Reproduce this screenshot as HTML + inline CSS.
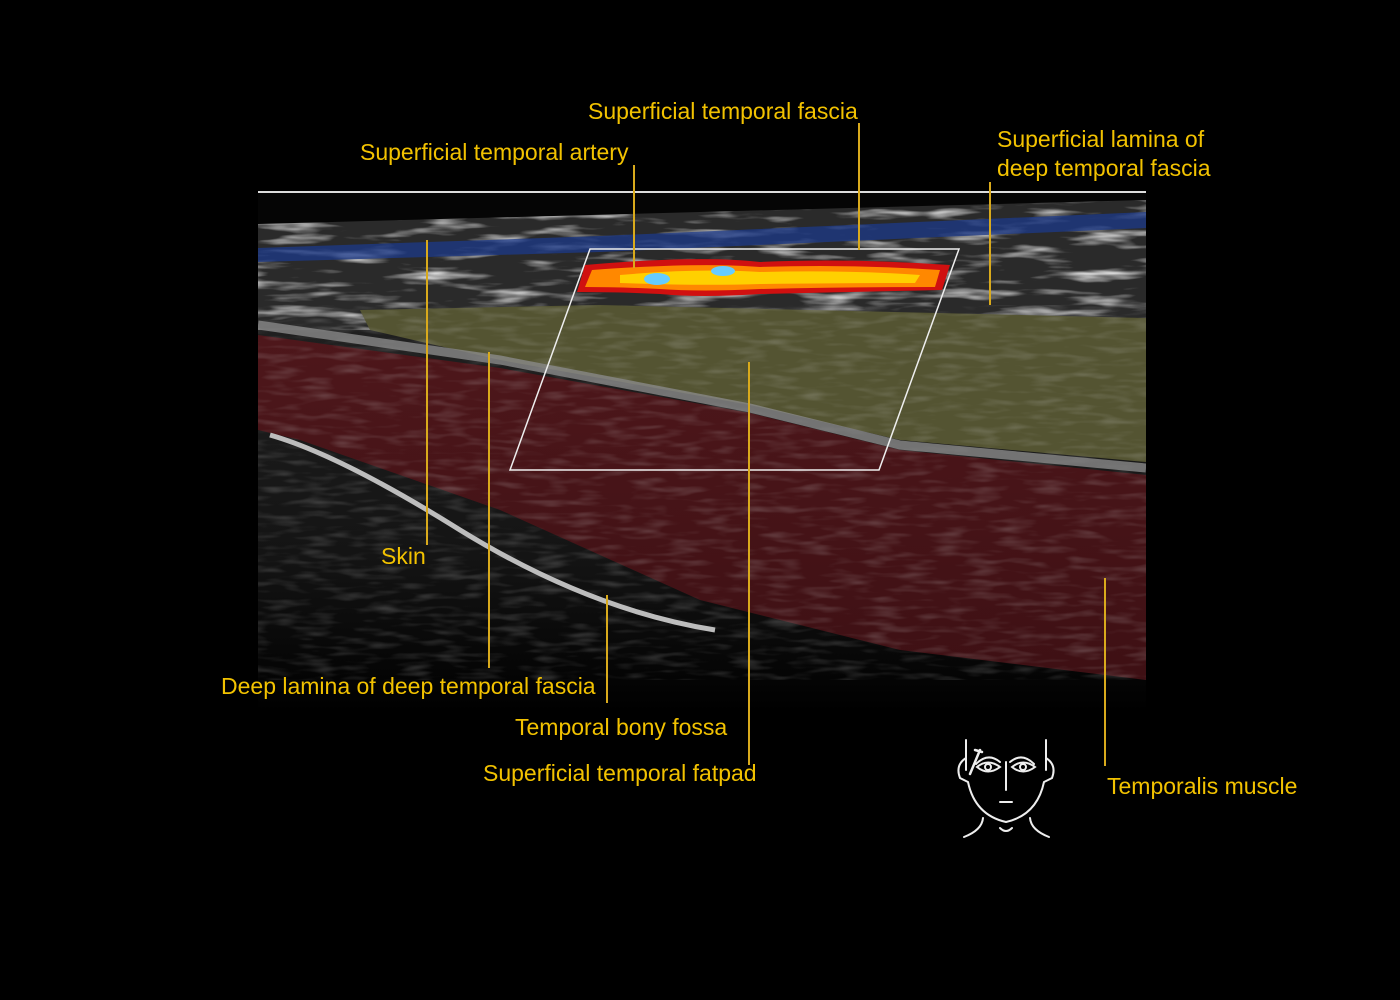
<!DOCTYPE html>
<html><head><meta charset="utf-8"><style>
html,body{margin:0;padding:0;background:#000;width:1400px;height:1000px;overflow:hidden}
svg{display:block}
text{font-family:"Liberation Sans",sans-serif;font-size:23px;fill:#f2c200}
</style></head><body>
<svg width="1400" height="1000" viewBox="0 0 1400 1000">
<defs>
<filter id="n" x="0" y="0" width="100%" height="100%">
<feTurbulence type="fractalNoise" baseFrequency="0.015 0.1" numOctaves="3" seed="4"/>
<feColorMatrix type="matrix" values="0 0 0 0 0.75 0 0 0 0 0.75 0 0 0 0 0.75 0 0 0 2.6 -1.3"/>
</filter>
<filter id="n2" x="0" y="0" width="100%" height="100%">
<feTurbulence type="fractalNoise" baseFrequency="0.03 0.15" numOctaves="2" seed="9"/>
<feColorMatrix type="matrix" values="0 0 0 0 0.6 0 0 0 0 0.6 0 0 0 0 0.6 0 0 0 1.5 -0.7"/>
</filter>
<linearGradient id="fade" x1="0" y1="0" x2="0" y2="1">
<stop offset="0" stop-color="#262626"/><stop offset="0.7" stop-color="#141414"/><stop offset="1" stop-color="#000"/>
</linearGradient>
<linearGradient id="redg" x1="0" y1="0" x2="0" y2="1">
<stop offset="0" stop-color="#4e171b"/><stop offset="1" stop-color="#3e1014"/>
</linearGradient>
<clipPath id="c"><rect x="258" y="192" width="888" height="520"/></clipPath>
</defs>
<g clip-path="url(#c)">
<rect x="258" y="192" width="888" height="520" fill="url(#fade)"/>
<polygon points="258,225 700,205 1146,195 1146,330 258,330" fill="#2a2a2a"/>
<rect x="258" y="200" width="888" height="130" filter="url(#n)"/>
<polygon points="258,192 1146,192 1146,200 700,212 258,224" fill="#050505"/>
<polygon points="258,248 600,236 1146,212 1146,228 600,252 258,262" fill="#1c3a8a" opacity="0.75"/>
<polygon points="360,310 600,305 1146,318 1146,462 900,440 750,405 500,360 370,330" fill="#545432"/>
<polygon points="258,335 500,368 750,413 900,450 1146,475 1146,680 900,650 700,600 500,510 300,440 258,430" fill="url(#redg)"/>
<polygon points="360,310 600,305 1146,318 1146,680 900,650 700,600 500,510 300,440 258,430 258,335" filter="url(#n2)" opacity="0.35"/>
<polyline points="258,325 500,360 750,408 900,445 1146,468" fill="none" stroke="#8a8a8a" stroke-width="9" opacity="0.8"/>
<path d="M270,435 Q340,455 460,530 Q590,610 715,630" fill="none" stroke="#bdbdbd" stroke-width="5"/>
</g>
<line x1="258" y1="192" x2="1146" y2="192" stroke="#ddd" stroke-width="2"/>
<polygon points="590,249 959,249 879,470 510,470" fill="none" stroke="#eee" stroke-width="1.5"/>
<path d="M585,265 Q700,255 760,262 Q850,258 950,265 L942,290 Q850,292 760,294 Q700,298 660,294 Q620,292 577,292 Z" fill="#d01010"/>
<path d="M592,270 Q700,262 760,267 Q850,264 940,270 L935,287 Q850,287 760,289 Q700,292 660,289 Q620,287 585,287 Z" fill="#ff8800"/>
<path d="M620,275 Q700,268 760,272 Q850,270 920,275 L915,283 Q850,283 760,284 Q700,286 620,283 Z" fill="#ffd000"/>
<ellipse cx="657" cy="279" rx="13" ry="6" fill="#66ccff"/>
<ellipse cx="723" cy="271" rx="12" ry="5" fill="#66ccff"/>
<g stroke="#d9aa1c" stroke-width="2">
<line x1="634" y1="165" x2="634" y2="268"/>
<line x1="859" y1="123" x2="859" y2="250"/>
<line x1="990" y1="182" x2="990" y2="305"/>
<line x1="427" y1="240" x2="427" y2="545"/>
<line x1="489" y1="352" x2="489" y2="668"/>
<line x1="607" y1="595" x2="607" y2="703"/>
<line x1="749" y1="362" x2="749" y2="765"/>
<line x1="1105" y1="578" x2="1105" y2="766"/>
</g>
<text x="588" y="119">Superficial temporal fascia</text>
<text x="360" y="160">Superficial temporal artery</text>
<text x="997" y="147">Superficial lamina of</text>
<text x="997" y="176">deep temporal fascia</text>
<text x="381" y="564">Skin</text>
<text x="221" y="694">Deep lamina of deep temporal fascia</text>
<text x="515" y="735">Temporal bony fossa</text>
<text x="483" y="781">Superficial temporal fatpad</text>
<text x="1107" y="794">Temporalis muscle</text>
<g fill="none" stroke="#eee" stroke-width="2" stroke-linecap="round">
<path d="M966,740 V770 M1046,740 V770"/>
<path d="M966,758 Q955,765 960,778 L968,782 Q975,815 1006,822 Q1037,815 1044,782 L1052,778 Q1057,765 1046,758"/>
<path d="M976,764 Q988,752 1000,762 M1010,762 Q1022,752 1034,764"/>
<path d="M977,767 Q988,758 1000,767 Q988,776 977,767 Z M1012,767 Q1023,758 1035,767 Q1023,776 1012,767 Z"/>
<circle cx="988" cy="767" r="3"/><circle cx="1023" cy="767" r="3"/>
<path d="M1006,762 V790 M1000,802 H1012"/>
<path d="M983,818 Q982,830 964,837 M1030,818 Q1031,830 1049,837 M1000,828 Q1006,834 1012,828"/>
<path d="M980,750 L970,774 M975,750 L982,752" stroke-width="2.5"/>
</g>
</svg>
</body></html>
